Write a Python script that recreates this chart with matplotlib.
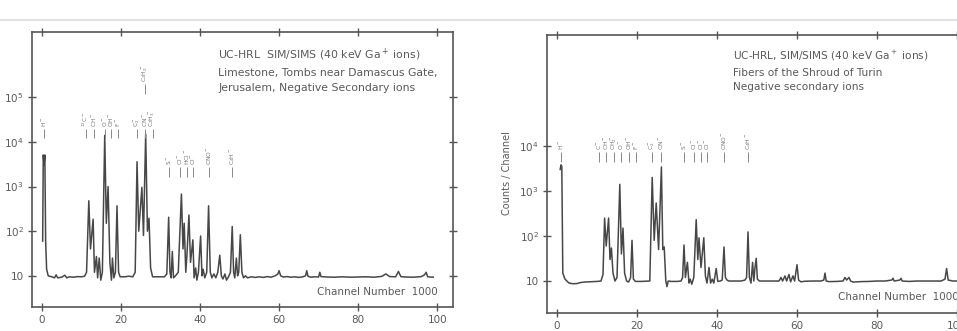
import numpy as np
import matplotlib
matplotlib.use('Agg')
import matplotlib.pyplot as plt
from matplotlib.lines import Line2D
from matplotlib.ticker import FixedLocator, NullLocator

# left spectrum: limestone, Damascus Gate (channel number, counts/channel)
left_ch = [0.2, 0.35, 0.55, 0.75, 0.95, 1.2, 1.6, 2.5, 3.2, 3.6, 4.0, 5.0, 5.8, 6.3, 7.0, 8.0, 9.0, 10.0,
           10.8, 11.3, 11.87, 12.3, 12.96, 13.3, 13.8, 14.1, 14.5, 14.9, 15.3, 15.9, 16.3, 16.75, 17.2,
           17.6, 17.85, 18.2, 18.6, 19.0, 19.4, 19.8, 21, 22, 23, 23.6, 24.07, 24.5, 24.9, 25.3, 25.7,
           26.26, 26.7, 27.1, 27.5, 28, 29, 30, 31, 31.6, 32.07, 32.4, 32.7, 33.0, 33.3, 33.8, 34.5,
           35.3, 35.7, 36.0, 36.4, 36.7, 37.2, 37.6, 38.2, 38.5, 38.9, 39.2, 39.6, 40.15, 40.5, 40.8,
           41.2, 41.7, 42.17, 42.6, 43.0, 43.5, 44.0, 44.5, 45.0, 45.4, 45.8, 46.3, 46.7, 47.2, 47.7,
           48.15, 48.5, 48.8, 49.2, 49.5, 49.8, 50.2, 50.6, 51, 51.5, 52, 53, 54, 55, 56, 57, 58, 59,
           59.7, 60, 60.4, 61, 62, 63, 64, 65, 66, 66.7, 67, 67.3, 68, 69, 70, 70.3, 70.6, 72, 74, 76,
           78, 80, 82, 84, 86, 87, 88, 89.5, 90.2, 90.8, 92, 94, 96, 96.8, 97.2, 97.6, 99]
left_counts = [60, 5100, 3000, 5100, 60, 14, 10, 9.5, 9, 10.5, 9, 9.3, 10.3, 9, 9.5, 9.3, 9.6, 9.5,
               9.8, 12, 480, 40, 185, 12, 27, 9, 25, 8, 12, 14000, 150, 1000, 20,
               8, 25, 9, 12, 370, 12, 9.5, 9.5, 9.8, 9.5, 12, 3600, 100, 300, 960, 80,
               15000, 100, 195, 15, 9.5, 9.5, 9.5, 9.5, 11, 205, 12, 9, 35, 9, 10, 12,
               680, 40, 150, 12, 30, 230, 20, 64, 9, 15, 8, 12, 78, 10, 14,
               9, 12, 370, 12, 9, 11, 9, 12, 29, 10, 8.5, 11, 8, 9.5, 12,
               127, 12, 9, 25, 10, 12, 83, 12, 9, 10, 9, 9.5, 9.2, 9.5, 9.2, 9.6, 9.3, 10,
               11, 13, 10, 9.4, 9.6, 9.3, 9.5, 9.2, 9.5, 10, 13, 9.8, 9.3, 9.5, 9.4, 12, 9.6, 9.4, 9.3, 9.5,
               9.3, 9.4, 9.5, 9.3, 9.7, 11, 9.6, 9.5, 12.5, 9.6, 9.4, 9.3, 9.6, 10.5, 12, 9.5, 9.3]

# right spectrum: fibers of the Shroud of Turin
right_ch = [0.8, 1.0, 1.2, 1.45, 2, 3, 4, 5, 6, 7, 8, 10, 11.0, 11.5, 11.9, 12.3, 12.9, 13.25, 13.6,
            14.0, 14.5, 15.0, 15.7, 16.1, 16.5, 16.9, 17.4, 17.9, 18.4, 18.75, 19.1, 19.6, 21, 22, 23.2,
            23.8, 24.3, 24.8, 25.4, 26.1, 26.45, 26.8, 27.2, 27.5, 27.8, 28.5, 30, 31, 31.4, 31.75, 32.1,
            32.6, 33.0, 33.3, 33.7, 34.2, 34.8, 35.2, 35.5, 36.0, 36.7, 37.1, 37.5, 38.0, 38.4, 38.8,
            39.2, 39.8, 40.2, 40.8, 41.3, 41.75, 42.1, 42.5, 43, 44, 45, 46, 47.0, 47.4, 47.75, 48.1,
            48.5, 48.9, 49.2, 49.5, 49.8, 50.1, 50.6, 52, 54, 55.5, 56, 56.4, 57, 57.4, 58, 58.4, 59,
            59.4, 60, 60.4, 61, 62, 64, 66, 66.7, 67, 67.3, 68, 70, 71.5, 72, 72.4, 73, 73.4, 74, 76,
            78, 80, 82, 83.7, 84, 84.3, 85.7, 86, 86.3, 88, 90, 92, 94, 96, 97.0, 97.4, 97.8, 99, 103]
right_counts = [3000, 3800, 3500, 15, 11, 9, 8.7, 8.8, 9.3, 9.5, 9.6, 9.8, 10, 14, 250, 60, 250, 30, 54,
                15, 10, 12, 1400, 40, 150, 15, 10, 9.5, 12, 80, 11, 9.8, 9.8, 9.9, 10,
                2000, 80, 540, 50, 3400, 50, 57, 10, 7.5, 10, 9.8, 9.8, 10, 12, 63, 12,
                26, 9, 11, 8.5, 12, 230, 30, 91, 20, 91, 13, 9, 20, 9, 11,
                9, 19, 9.8, 10, 10.5, 57, 12, 10.5, 10, 10, 10, 10, 10.5, 12, 123, 12,
                9, 26, 10, 20, 32, 11, 10, 10, 10, 10, 12, 10, 13, 10, 14, 9.6, 13,
                10, 23, 10.5, 9.6, 9.9, 10, 10, 10.5, 15, 10, 9.7, 9.8, 10, 12, 10.5, 12, 10, 9.5, 9.7,
                9.8, 10, 10, 10.5, 11.5, 10, 10.5, 11.5, 10, 9.8, 10, 10, 10, 10, 11, 19, 10.5, 10, 10]

# peak identifications (channel, label, counts at label base)
left_lab_ch = [0.6, 11.1, 13.2, 15.9, 17.6, 19.3, 24.1, 26.2, 26.2, 28.0,
               32.1, 35.0, 36.6, 38.2, 42.2, 48.2]
left_lab_txt = ['H$^-$', '$^{12}$C$^-$', 'CH$^-$', 'O$^-$', 'OH$^-$', 'F$^-$', 'C$_2^-$', 'CN$^-$',
                'C$_2$H$_2^-$', 'C$_2$H$_3^-$', 'S$^-$', 'Cl$^-$', 'HCl$^-$', 'Cl$^-$', 'CNO$^-$', 'C$_4$H$^-$']
left_lab_y = [2.2e4, 2.2e4, 2.2e4, 2.2e4, 2.2e4, 2.2e4, 2.2e4, 2.2e4, 2.2e5, 2.2e4,
              3e3, 3e3, 3e3, 3e3, 3e3, 3e3]

right_lab_ch = [1.0, 10.4, 12.3, 14.2, 16.1, 18.0, 19.8, 23.8, 26.1, 31.8, 34.3, 35.9, 37.5, 41.8, 47.8]
right_lab_txt = ['H$^-$', 'C$^-$', 'CH$^-$', 'CH$_2^-$', 'O$^-$', 'OH$^-$', 'F$^-$', 'C$_2^-$', 'CN$^-$',
                 'S$^-$', 'Cl$^-$', 'Cl$^-$', 'Cl$^-$', 'CNO$^-$', 'C$_4$H$^-$']
right_lab_y = [8e3] * 15

left_yticks = [10, 1e2, 1e3, 1e4, 1e5]
left_ylabels = ['10', '10$^2$', '10$^3$', '10$^4$', '10$^5$']
right_yticks = [10, 1e2, 1e3, 1e4]
right_ylabels = ['10', '10$^2$', '10$^3$', '10$^4$']
xticks = [0, 20, 40, 60, 80, 100]

W, H = 957, 331
fig = plt.figure(figsize=(W / 100, H / 100), dpi=100)
fig.patch.set_facecolor('white')
fig.add_artist(Line2D([0, 1], [1 - 20 / H] * 2, color='#e2e2e2', lw=1.5, transform=fig.transFigure))

ink = '#474747'
txt = '#5a5a5a'


def panel(rect, ch, counts, ylim, yticks, ylabels, lab_ch, lab_txt, lab_y):
    ax = fig.add_axes(rect)
    ax.plot(ch, counts, color=ink, lw=1.1)
    ax.set_yscale('log')
    ax.set_xlim(-2.5, 104)
    ax.set_ylim(*ylim)
    ax.yaxis.set_major_locator(FixedLocator(yticks))
    ax.set_yticklabels(ylabels)
    ax.yaxis.set_minor_locator(NullLocator())
    ax.set_xticks(xticks)
    ax.tick_params(direction='inout', length=6, width=1, colors='#555', labelcolor=txt,
                   labelsize=7.5, top=True, right=True, pad=3)
    for s in ax.spines.values():
        s.set_color('#555')
        s.set_linewidth(1.2)
    for c, t, y in zip(lab_ch, lab_txt, lab_y):
        ax.text(c, y, t, rotation=90, ha='center', va='bottom', fontsize=4.2, color='#777')
    ax.vlines(lab_ch, [y * 0.55 for y in lab_y], [y * 0.9 for y in lab_y], color='#888', lw=0.7)
    return ax


axl = panel([32 / W, (H - 307) / H, 421 / W, 275 / H], left_ch, left_counts, (2.0, 2.9e6),
            left_yticks, left_ylabels, left_lab_ch, left_lab_txt, left_lab_y)
axr = panel([547 / W, (H - 313) / H, 426 / W, 278 / H], right_ch, right_counts, (1.95, 2.9e6),
            right_yticks, right_ylabels, right_lab_ch, right_lab_txt, right_lab_y)

fig.text(218 / W, 1 - 47 / H,
         'UC-HRL  SIM/SIMS (40 keV Ga$^+$ ions)\nLimestone, Tombs near Damascus Gate,\nJerusalem, Negative Secondary ions',
         fontsize=7.8, color=txt, va='top', ha='left', linespacing=1.6)
fig.text(733 / W, 1 - 49 / H,
         'UC-HRL, SIM/SIMS (40 keV Ga$^+$ ions)\nFibers of the Shroud of Turin\nNegative secondary ions',
         fontsize=7.6, color=txt, va='top', ha='left', linespacing=1.55)
fig.text(317 / W, 1 - 292 / H, 'Channel Number  1000', fontsize=7.5, color=txt, va='center', ha='left')
fig.text(838 / W, 1 - 297 / H, 'Channel Number  1000', fontsize=7.5, color=txt, va='center', ha='left')
fig.text(507 / W, 1 - 173 / H, 'Counts / Channel', fontsize=7, color=txt, rotation=90,
         va='center', ha='center')

plt.savefig('out.png', dpi=100)
